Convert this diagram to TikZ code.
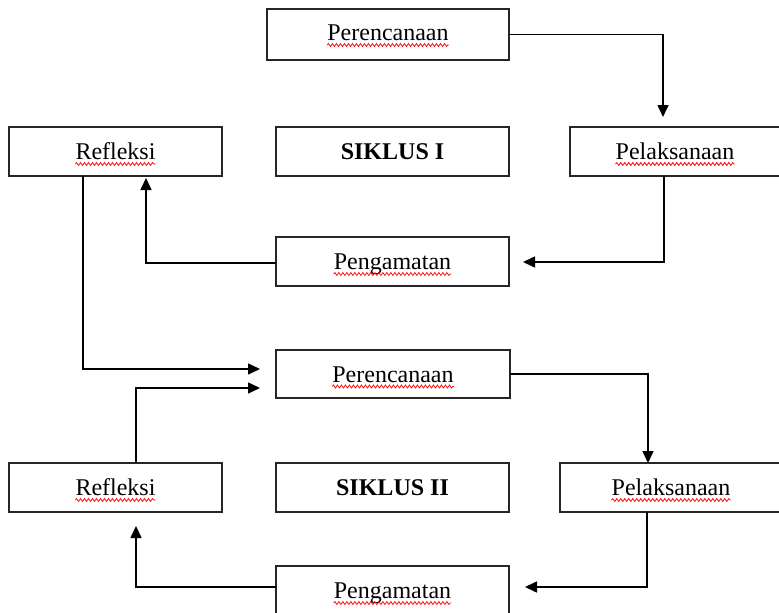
\documentclass[tikz,border=0pt]{standalone}
\usepackage{fontspec}
\setmainfont{Liberation Serif}
\usetikzlibrary{arrows.meta,decorations.pathmorphing}
\begin{document}
\begin{tikzpicture}[x=1pt,y=-1pt,
  box/.style={draw=black!85,line width=1.9pt,inner sep=0pt,outer sep=0pt,minimum height=49pt},
  txt/.style={inner sep=0pt,anchor=base,yshift=-8pt,font=\fontsize{24}{28}\selectfont},
  conn/.style={draw=black,line width=1.6pt,-{Triangle[length=12pt,width=11pt]}},
  wavy/.style={draw=red,line width=0.7pt,decorate,decoration={snake,amplitude=1.5pt,segment length=4pt}}]
\useasboundingbox (0,0) rectangle (779,613);
\fill[white] (0,0) rectangle (779,613);
% boxes
\node[box,minimum width=242pt,minimum height=51pt] (per1) at (388,34.5) {};
\node[box,minimum width=213pt] (ref1) at (115.5,151.5) {};
\node[box,minimum width=233pt] (sik1) at (392.5,151.5) {};
\node[box,minimum width=210pt] (pel1) at (675,151.5) {};
\node[box,minimum width=233pt] (pen1) at (392.5,261.5) {};
\node[box,minimum width=234pt,minimum height=48pt] (per2) at (393,374) {};
\node[box,minimum width=213pt] (ref2) at (115.5,487.5) {};
\node[box,minimum width=233pt] (sik2) at (392.5,487.5) {};
\node[box,minimum width=222pt] (pel2) at (671,487.5) {};
\node[box,minimum width=233pt] (pen2) at (392.5,590.5) {};
% texts
\node[txt,yshift=2pt] (per1t) at (per1.center) {Perencanaan};
\node[txt] (ref1t) at (ref1.center) {Refleksi};
\node[txt] (sik1t) at (sik1.center) {\bfseries SIKLUS I};
\node[txt] (pel1t) at (pel1.center) {Pelaksanaan};
\node[txt] (pen1t) at (pen1.center) {Pengamatan};
\node[txt] (per2t) at (per2.center) {Perencanaan};
\node[txt] (ref2t) at (ref2.center) {Refleksi};
\node[txt] (sik2t) at (sik2.center) {\bfseries SIKLUS II};
\node[txt] (pel2t) at (pel2.center) {Pelaksanaan};
\node[txt] (pen2t) at (pen2.center) {Pengamatan};
% spell-check underlines
\foreach \t in {per1t,ref1t,pel1t,pen1t,per2t,ref2t,pel2t,pen2t}{
  \draw[wavy] ([yshift=-4.5pt]\t.base west) -- ([yshift=-4.5pt]\t.base east);
}
% arrow end points
\coordinate (e1) at (663,117);
\coordinate (e2) at (523,262);
\coordinate (e3) at (146,178);
\coordinate (e4) at (260,369);
\coordinate (e5) at (260,388);
\coordinate (e7) at (525,587);
\coordinate (e8) at (136,526);
% connectors
\draw[conn] (per1.east) -| (e1);
\draw[conn] ([xshift=-11pt]pel1.south) |- (e2);
\draw[conn] ([yshift=-1.5pt]pen1.west) -| (e3);
\draw[conn] ([xshift=-32.5pt]ref1.south) |- (e4);
\draw[conn] ([xshift=20.5pt]ref2.north) |- (e5);
\draw[conn] (per2.east) -| ([xshift=-23pt]pel2.north);
\draw[conn] ([xshift=-24pt]pel2.south) |- (e7);
\draw[conn] ([yshift=3.5pt]pen2.west) -| (e8);
\end{tikzpicture}
\end{document}
